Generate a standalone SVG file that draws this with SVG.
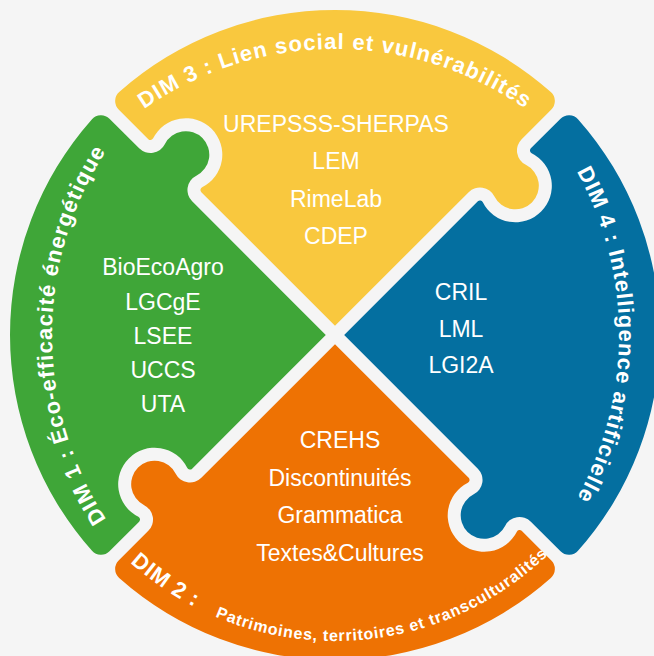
<svg xmlns="http://www.w3.org/2000/svg" width="654" height="656" viewBox="0 0 654 656">
<style>
.lab{font-family:"Liberation Sans",Arial,sans-serif;font-size:23px;fill:#ffffff;text-anchor:middle}
.dim{font-family:"Liberation Sans",Arial,sans-serif;font-weight:bold;font-size:22px;fill:#ffffff}
.sub{font-family:"Liberation Sans",Arial,sans-serif;font-weight:bold;font-size:16px;letter-spacing:0.8px;fill:#ffffff}
.yellow{fill:#F9C83E}
.blue{fill:#046FA0}
.orange{fill:#EE7203}
.green{fill:#3FA638}
</style>
<defs>
<path id="piece" d="M335 325.81 L201.33 192.14 A3 3 0 0 1 202.11 187.33 A36.5 36.5 0 1 0 153.15 138.37 A3 3 0 0 1 148.34 139.15 L118.66 109.47 A12 12 0 0 1 119.18 92.01 A325 325 0 0 1 550.82 92.01 A12 12 0 0 1 551.34 109.47 L521.66 139.15 A16 16 0 0 0 525.81 164.78 A23.5 23.5 0 1 1 494.29 196.30 A16 16 0 0 0 468.67 192.14 Z"/>
<path id="arc3" d="M22.08 268.11 A333 333 0 0 1 647.92 268.11"/>
<path id="arc1" d="M222 629.45 A340 340 0 0 1 222 40.55"/>
<path id="arc4" d="M450.5 43.15 A337 337 0 0 1 450.5 626.85"/>
<path id="arc2" d="M130.25 562.40 A306 306 0 0 0 569.41 531.69"/>
</defs>
<rect width="654" height="656" fill="#F5F5F5"/>

<g id="dim3">
<use href="#piece" class="yellow"/>
<text class="dim" letter-spacing="1.1"><textPath href="#arc3" startOffset="203.6">DIM 3 :</textPath></text>
<text class="dim" letter-spacing="1.1"><textPath href="#arc3" startOffset="290.6">Lien social et</textPath></text>
<text class="dim" letter-spacing="1.1"><textPath href="#arc3" startOffset="452.6">vulnéra</textPath></text>
<text class="dim" letter-spacing="1.1"><textPath href="#arc3" startOffset="538.6">bilités</textPath></text>
<text class="lab" x="336" y="131.5">UREPSSS-SHERPAS</text>
<text class="lab" x="336" y="169">LEM</text>
<text class="lab" x="336" y="206.5">RimeLab</text>
<text class="lab" x="336" y="244">CDEP</text>
</g>

<g id="dim4">
<use href="#piece" class="blue" transform="rotate(90 335 335)"/>
<text class="dim" text-anchor="middle" letter-spacing="1"><textPath href="#arc4" startOffset="50%">DIM 4 : Intelligence artificielle</textPath></text>
<text class="lab" x="461" y="300">CRIL</text>
<text class="lab" x="461" y="337">LML</text>
<text class="lab" x="461" y="373">LGI2A</text>
</g>

<g id="dim2">
<use href="#piece" class="orange" transform="rotate(180 335 335)"/>
<text class="dim" letter-spacing="1"><textPath href="#arc2" startOffset="0">DIM 2 :</textPath></text>
<text class="sub"><textPath href="#arc2" startOffset="101.1">Patrimoines,</textPath></text>
<text class="sub"><textPath href="#arc2" startOffset="212">territoires</textPath></text>
<text class="sub"><textPath href="#arc2" startOffset="300.7">et</textPath></text>
<text class="sub"><textPath href="#arc2" startOffset="321.8">trans</textPath></text>
<text class="sub"><textPath href="#arc2" startOffset="364.9">culturalités</textPath></text>
<text class="lab" x="340" y="448">CREHS</text>
<text class="lab" x="340" y="485.5">Discontinuités</text>
<text class="lab" x="340" y="523">Grammatica</text>
<text class="lab" x="340" y="561">Textes&amp;Cultures</text>
</g>

<g id="dim1">
<use href="#piece" class="green" transform="rotate(270 335 335)"/>
<text class="dim" text-anchor="middle" letter-spacing="1.1"><textPath href="#arc1" startOffset="50%">DIM 1 : Éco-efficacité énergétique</textPath></text>
<text class="lab" x="163" y="275">BioEcoAgro</text>
<text class="lab" x="163" y="309.5">LGCgE</text>
<text class="lab" x="163" y="344">LSEE</text>
<text class="lab" x="163" y="378">UCCS</text>
<text class="lab" x="163" y="412">UTA</text>
</g>

<g id="connectors"></g>
</svg>
